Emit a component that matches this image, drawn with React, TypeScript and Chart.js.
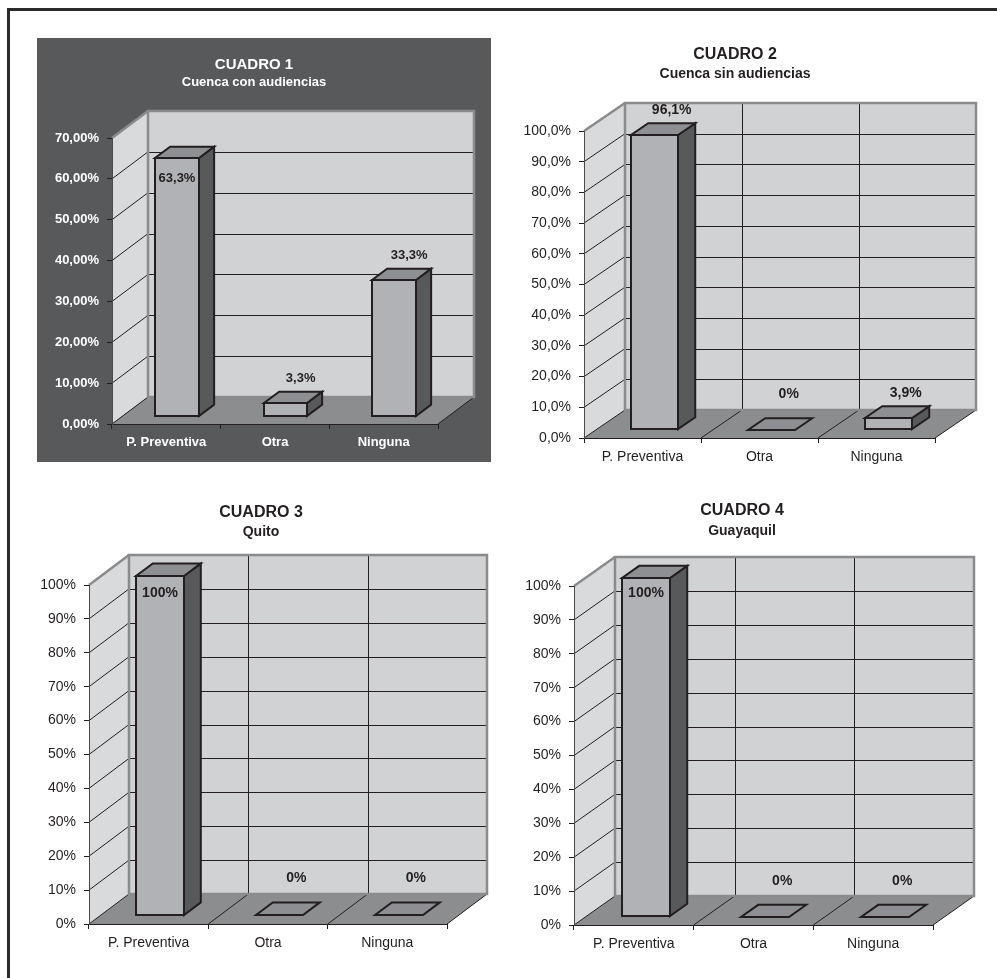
import React, { useEffect, useRef } from 'react';
import { Chart, registerables } from 'chart.js';

Chart.register(...registerables);

// ---------------- data ----------------
const categories = ['P. Preventiva', 'Otra', 'Ninguna'];
const cuadro1Values = [63.3, 3.3, 33.3];
const cuadro2Values = [96.1, 0, 3.9];
const cuadro3Values = [100, 0, 0];
const cuadro4Values = [100, 0, 0];
const titles = ['CUADRO 1', 'CUADRO 2', 'CUADRO 3', 'CUADRO 4'];
const subtitles = ['Cuenca con audiencias', 'Cuenca sin audiencias', 'Quito', 'Guayaquil'];
const yMaxima = [70, 100, 100, 100];
const yTickDecimals = [2, 1, 0, 0];
const labelInside = [
  [true, false, false],
  [false, false, false],
  [true, false, false],
  [true, false, false],
];

// ---------------- layout / style ----------------
const FONT = "'Liberation Sans', Arial, Helvetica, sans-serif";
const Y_AXIS_W = 70;
const X_AXIS_H = 32;

const panels = [
  { left: 37, top: 38, width: 454, height: 424, area: { l: 75, r: 401, t: 100, b: 386 }, depth: [36, 27], dark: true, vgrid: false, fs: 13, tfs: 15, sfs: 13, titleX: 217, titleY: 27, subY: 44, insideOff: 20 },
  { left: 500, top: 30, width: 490, height: 450, area: { l: 84, r: 435, t: 101, b: 408 }, depth: [41, 28], dark: false, vgrid: true, fs: 14, tfs: 16, sfs: 14, titleX: 235, titleY: 25, subY: 44, insideOff: 17 },
  { left: 10, top: 490, width: 490, height: 480, area: { l: 79, r: 437, t: 95, b: 434 }, depth: [40, 30], dark: false, vgrid: true, fs: 14, tfs: 16, sfs: 14, titleX: 251, titleY: 23, subY: 42, insideOff: 17 },
  { left: 500, top: 490, width: 490, height: 480, area: { l: 74, r: 433, t: 96, b: 435 }, depth: [41, 29], dark: false, vgrid: true, fs: 14, tfs: 16, sfs: 14, titleX: 242, titleY: 21, subY: 41, insideOff: 15 },
];
const seriesList = [cuadro1Values, cuadro2Values, cuadro3Values, cuadro4Values];

const C = {
  leftWall: '#d9dadc',
  backWall: '#d1d2d4',
  floor: '#8c8d8f',
  wallBorder: '#8a8b8d',
  grid: '#231f20',
  barFront: '#b1b2b5',
  barTop: '#8e8f92',
  barSide: '#58595b',
  barEdge: '#231f20',
  text: '#231f20',
  dark: '#58595b',
};

function fmtLabel(v: number) {
  return Number.isInteger(v) ? `${v}%` : v.toFixed(1).replace('.', ',') + '%';
}
const snap = (v: number) => Math.round(v) + 0.5;

function poly(ctx: CanvasRenderingContext2D, pts: number[][]) {
  ctx.beginPath();
  ctx.moveTo(pts[0][0], pts[0][1]);
  for (let i = 1; i < pts.length; i++) ctx.lineTo(pts[i][0], pts[i][1]);
  ctx.closePath();
}
function line(ctx: CanvasRenderingContext2D, x1: number, y1: number, x2: number, y2: number) {
  ctx.beginPath();
  ctx.moveTo(x1, y1);
  ctx.lineTo(x2, y2);
  ctx.stroke();
}

function make3D(p: any, values: number[], inside: boolean[], title: string, subtitle: string) {
  const F0 = 0.29;
  const F1 = 0.71;
  return {
    id: 'threeD',
    beforeDraw(chart: any) {
      const ctx: CanvasRenderingContext2D = chart.ctx;
      const { left: L, right: R, top: T, bottom: B } = chart.chartArea;
      const [dx, dy] = p.depth;
      const ys = chart.scales.y;
      const xs = chart.scales.x;
      ctx.save();
      // walls and floor
      poly(ctx, [[L, B], [L, T], [L + dx, T - dy], [L + dx, B - dy]]);
      ctx.fillStyle = C.leftWall;
      ctx.fill();
      ctx.fillStyle = C.backWall;
      ctx.fillRect(L + dx, T - dy, R - L, B - T);
      poly(ctx, [[L, B], [R, B], [R + dx, B - dy], [L + dx, B - dy]]);
      ctx.fillStyle = C.floor;
      ctx.fill();
      // grid lines
      ctx.strokeStyle = C.grid;
      ctx.lineWidth = 1;
      ys.ticks.forEach((t: any) => {
        const y = ys.getPixelForValue(t.value);
        line(ctx, L, y, L + dx, y - dy);
        if (t.value > 0) {
          const yy = snap(y - dy);
          line(ctx, L + dx, yy, R + dx, yy);
        }
      });
      if (p.vgrid) {
        const n = chart.data.labels.length;
        const step = xs.getPixelForValue(1) - xs.getPixelForValue(0);
        for (let i = 1; i < n; i++) {
          const x = xs.getPixelForValue(i) - step / 2;
          line(ctx, x, B, x + dx, B - dy);
          const xx = snap(x + dx);
          line(ctx, xx, B - dy, xx, T - dy);
        }
      }
      line(ctx, R, B, R + dx, B - dy);
      // wall borders
      ctx.strokeStyle = C.wallBorder;
      ctx.lineWidth = 2.5;
      ctx.strokeRect(L + dx, T - dy, R - L, B - T);
      line(ctx, L, T, L + dx, T - dy);
      ctx.restore();
    },
    afterDatasetsDraw(chart: any) {
      const ctx: CanvasRenderingContext2D = chart.ctx;
      const [dx, dy] = p.depth;
      const meta = chart.getDatasetMeta(0);
      ctx.save();
      ctx.lineWidth = 2;
      ctx.lineJoin = 'miter';
      ctx.strokeStyle = C.barEdge;
      meta.data.forEach((el: any, i: number) => {
        const { x, y, base, width } = el.getProps(['x', 'y', 'base', 'width'], true);
        const x0 = Math.round(x - width / 2 + F0 * dx);
        const x1 = Math.round(x + width / 2 + F0 * dx);
        const yTop = Math.round(y - F0 * dy);
        const yBot = Math.round(base - F0 * dy);
        const ddx = (F1 - F0) * dx;
        const ddy = (F1 - F0) * dy;
        const h = yBot - yTop;
        if (h > 0.5) {
          ctx.fillStyle = C.barFront;
          ctx.fillRect(x0, yTop, x1 - x0, h);
          ctx.strokeRect(x0, yTop, x1 - x0, h);
          poly(ctx, [[x1, yTop], [x1 + ddx, yTop - ddy], [x1 + ddx, yBot - ddy], [x1, yBot]]);
          ctx.fillStyle = C.barSide;
          ctx.fill();
          ctx.stroke();
        }
        poly(ctx, [[x0, yTop], [x1, yTop], [x1 + ddx, yTop - ddy], [x0 + ddx, yTop - ddy]]);
        ctx.fillStyle = C.barTop;
        ctx.fill();
        ctx.stroke();

        // value label
        const v = values[i];
        ctx.font = `bold ${p.fs}px ${FONT}`;
        ctx.fillStyle = C.text;
        ctx.textAlign = 'center';
        ctx.textBaseline = 'middle';
        const cx = (x0 + x1) / 2;
        if (inside[i]) {
          ctx.fillText(fmtLabel(v), cx, yTop + p.insideOff);
        } else {
          ctx.fillText(fmtLabel(v), cx + ddx, yTop - ddy - (v === 0 ? 24 : 13));
        }
      });
      ctx.restore();
    },
    afterDraw(chart: any) {
      const ctx: CanvasRenderingContext2D = chart.ctx;
      ctx.save();
      ctx.fillStyle = p.dark ? '#ffffff' : C.text;
      ctx.textAlign = 'center';
      ctx.textBaseline = 'middle';
      ctx.font = `bold ${p.tfs}px ${FONT}`;
      ctx.fillText(title, p.titleX, p.titleY);
      ctx.font = `bold ${p.sfs}px ${FONT}`;
      ctx.fillText(subtitle, p.titleX, p.subY);
      ctx.restore();
    },
  };
}

function Cuadro({ index }: { index: number }) {
  const ref = useRef<HTMLCanvasElement | null>(null);
  const p = panels[index];
  useEffect(() => {
    if (!ref.current) return;
    const values = seriesList[index];
    const tickColor = p.dark ? '#ffffff' : C.text;
    const tickFont = { family: FONT, size: p.fs, weight: p.dark ? 'bold' : 'normal' } as any;
    const dec = yTickDecimals[index];
    const chart = new Chart(ref.current, {
      type: 'bar',
      data: {
        labels: categories,
        datasets: [
          {
            data: values,
            backgroundColor: 'rgba(0,0,0,0)',
            borderWidth: 0,
            barPercentage: 0.4,
            categoryPercentage: 1,
          },
        ],
      },
      options: {
        responsive: false,
        animation: false,
        devicePixelRatio: 1,
        layout: {
          padding: {
            left: p.area.l - Y_AXIS_W,
            right: p.width - p.area.r,
            top: p.area.t,
            bottom: p.height - p.area.b - X_AXIS_H,
          },
        },
        plugins: {
          legend: { display: false },
          tooltip: { enabled: false },
          title: { display: false },
        },
        scales: {
          x: {
            type: 'category',
            grid: { display: true, drawOnChartArea: false, drawTicks: true, tickLength: 5, color: C.grid, offset: true },
            border: { display: true, color: C.grid, width: 1 },
            ticks: { color: tickColor, font: tickFont, padding: 6, maxRotation: 0, autoSkip: false },
            afterFit: (s: any) => {
              s.height = X_AXIS_H;
            },
          },
          y: {
            type: 'linear',
            min: 0,
            max: yMaxima[index],
            grid: { display: true, drawOnChartArea: false, drawTicks: true, tickLength: 5, color: C.grid },
            border: { display: true, color: '#4a4a4a', width: 1 },
            ticks: {
              stepSize: 10,
              color: tickColor,
              font: tickFont,
              padding: 8,
              callback: (v: any) => Number(v).toFixed(dec).replace('.', ',') + '%',
            },
            afterFit: (s: any) => {
              s.width = Y_AXIS_W;
            },
          },
        },
      } as any,
      plugins: [make3D(p, values, labelInside[index], titles[index], subtitles[index])],
    });
    return () => chart.destroy();
  }, [index]);
  return (
    <canvas
      ref={ref}
      width={p.width}
      height={p.height}
      style={{
        position: 'absolute',
        left: p.left,
        top: p.top,
        width: p.width,
        height: p.height,
        background: p.dark ? C.dark : 'transparent',
      }}
    />
  );
}

export default function App() {
  return (
    <div style={{ position: 'absolute', left: 0, top: 0, width: 997, height: 978, background: '#ffffff', overflow: 'hidden' }}>
      <div
        style={{
          position: 'absolute',
          left: 7,
          top: 8,
          right: 0,
          bottom: 0,
          borderTop: '3px solid #2b2b2b',
          borderLeft: '3px solid #2b2b2b',
        }}
      />
      {panels.map((_, i) => (
        <Cuadro key={i} index={i} />
      ))}
    </div>
  );
}
